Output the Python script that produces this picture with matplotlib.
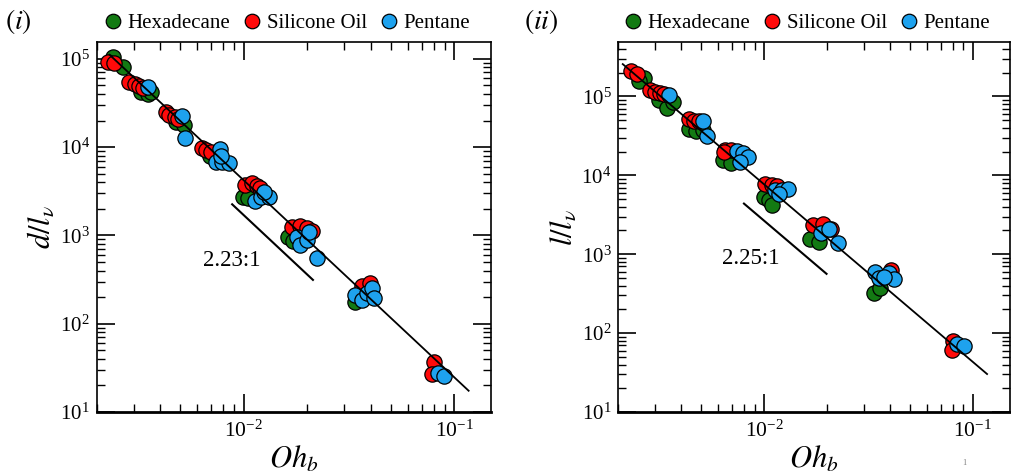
import matplotlib
matplotlib.use("Agg")
import matplotlib.pyplot as plt
import numpy as np
from matplotlib.ticker import LogLocator, NullFormatter

plt.rcParams['font.family'] = ['Liberation Serif', 'DejaVu Serif']
plt.rcParams['mathtext.fontset'] = 'stix'

# panel (i): d/l_v vs Oh_b
hex_x1 = [0.00239, 0.00267, 0.00326, 0.0035, 0.00363, 0.00478, 0.00517, 0.00687,
          0.00995, 0.0105, 0.0163, 0.0171, 0.0337]
hex_y1 = [1.04e5, 8.07e4, 4.24e4, 3.96e4, 4.24e4, 1.91e4, 1.78e4, 8.0e3,
          2.74e3, 2.63e3, 966, 865, 175]
sil_x1 = [0.00226, 0.00242, 0.00286, 0.00303, 0.00318, 0.00332, 0.00428, 0.00443,
          0.00469, 0.00486, 0.00634, 0.00662, 0.0070, 0.01014, 0.0109, 0.01153,
          0.01195, 0.0169, 0.0185, 0.0199, 0.021, 0.0363, 0.0398, 0.080, 0.078]
sil_y1 = [9.3e4, 8.95e4, 5.5e4, 5.14e4, 4.96e4, 4.71e4, 2.52e4, 2.31e4,
          2.21e4, 2.08e4, 9.84e3, 9.27e3, 8.73e3, 3.72e3, 3.89e3, 3.66e3,
          3.41e3, 1.256e3, 1.29e3, 1.22e3, 1.12e3, 267, 290, 37, 26.9]
pen_x1 = [0.00352, 0.0051, 0.00523, 0.00772, 0.0074, 0.00789, 0.0085, 0.0078,
          0.0113, 0.0121, 0.0131, 0.0124, 0.01787, 0.0185, 0.020, 0.0205, 0.0223,
          0.0337, 0.0363, 0.0384, 0.0405, 0.0415, 0.0839, 0.0893]
pen_y1 = [4.83e4, 2.25e4, 1.28e4, 9.5e3, 6.73e3, 6.8e3, 6.56e3, 7.93e3,
          2.45e3, 2.74e3, 2.7e3, 3.13e3, 966, 778, 887, 1.1e3, 560,
          211, 185, 221, 252, 194, 27.4, 25.6]

# panel (ii): l/l_v vs Oh_b
hex_x2 = [0.00266, 0.00251, 0.00313, 0.00343, 0.00366, 0.00435, 0.00472, 0.00508,
          0.00633, 0.00692, 0.00993, 0.0105, 0.01095, 0.01656, 0.01827, 0.0335, 0.036]
hex_y2 = [1.73e5, 1.56e5, 8.9e4, 7.2e4, 8.47e4, 3.9e4, 3.64e4, 3.72e4,
          1.55e4, 1.43e4, 5.31e3, 4.83e3, 4.26e3, 1.58e3, 1.43e3, 318, 368]
sil_x2 = [0.00229, 0.00245, 0.00285, 0.00301, 0.00318, 0.0033, 0.00435, 0.00459,
          0.00485, 0.00649, 0.00692, 0.0064, 0.0101, 0.01087, 0.01148, 0.01718,
          0.01915, 0.021, 0.0405, 0.0805, 0.0796]
sil_y2 = [2.13e5, 1.94e5, 1.19e5, 1.13e5, 1.10e5, 1.06e5, 5.22e4, 4.87e4,
          4.87e4, 2.11e4, 2.07e4, 1.95e4, 7.85e3, 7.62e3, 7.26e3, 2.33e3,
          2.4e3, 2.07e3, 640, 80, 62]
pen_x2 = [0.00349, 0.00508, 0.00531, 0.00738, 0.00789, 0.0084, 0.0077, 0.01127,
          0.01222, 0.01305, 0.01178, 0.0188, 0.0204, 0.0226, 0.0338, 0.0357,
          0.0398, 0.0417, 0.0377, 0.0841, 0.0905]
pen_y2 = [1.05e5, 4.87e4, 3.12e4, 2.03e4, 1.91e4, 1.71e4, 1.47e4, 6.46e3,
          6.6e3, 6.8e3, 5.86e3, 1.86e3, 2.11e3, 1.39e3, 598, 507,
          570, 492, 516, 72, 68.4]

# power-law fits  y = A * x^-n
fit_A = [0.1455, 0.2426]
fit_n = [2.23, 2.25]
fit_xrange = [(0.0023, 0.117), (0.0021, 0.117)]
# slope guide segments: (x start, y start, x end)
guide = [(0.0088, 2250, 0.0213), (0.0080, 4385, 0.0199)]
guide_text = ["2.23:1", "2.25:1"]
guide_text_pos = [(0.0088, 526), (0.00858, 883)]

ylabels = [r"$d/l_\nu$", r"$l/l_\nu$"]
panel_labels = [r"$(i)$", r"$(ii)$"]
ylims = [(10, 1.55e5), (10, 4.9e5)]

green = "#137a13"
red = "#ff0a0a"
blue = "#1ea2ee"

fig = plt.figure(figsize=(10.11, 4.75), dpi=100)
ax1 = fig.add_axes([0.0957, 0.1326, 0.3903, 0.779])
ax2 = fig.add_axes([0.6116, 0.1326, 0.3870, 0.779])

data = [(hex_x1, hex_y1, sil_x1, sil_y1, pen_x1, pen_y1),
        (hex_x2, hex_y2, sil_x2, sil_y2, pen_x2, pen_y2)]

for i, ax in enumerate([ax1, ax2]):
    hx, hy, sx, sy, px, py = data[i]
    mk = dict(ls='none', marker='o', ms=11, mec='black', mew=0.9)
    ax.plot(hx, hy, mfc=green, label='Hexadecane', **mk)
    ax.plot(sx, sy, mfc=red, label='Silicone Oil', **mk)
    ax.plot(px, py, mfc=blue, label='Pentane', **mk)

    xf = np.array(fit_xrange[i])
    ax.plot(xf, fit_A[i] * xf ** (-fit_n[i]), color='black', lw=1.3, zorder=5)

    gx0, gy0, gx1 = guide[i]
    gx = np.array([gx0, gx1])
    ax.plot(gx, gy0 * (gx / gx0) ** (-fit_n[i]), color='black', lw=1.5)
    ax.text(guide_text_pos[i][0], guide_text_pos[i][1], guide_text[i],
            ha='center', va='center', fontsize=16.5)

    ax.set_xscale('log')
    ax.set_yscale('log')
    ax.set_xlim(0.002, 0.15)
    ax.set_ylim(*ylims[i])

    ax.xaxis.set_major_locator(LogLocator(base=10))
    ax.xaxis.set_minor_locator(LogLocator(base=10, subs=np.arange(2, 10)))
    ax.yaxis.set_minor_locator(LogLocator(base=10, subs=np.arange(2, 10)))
    ax.xaxis.set_minor_formatter(NullFormatter())
    ax.yaxis.set_minor_formatter(NullFormatter())

    ax.tick_params(which='both', direction='in', top=True, right=True)
    ax.tick_params(which='major', length=13, width=1.2)
    ax.tick_params(which='minor', length=6, width=1.0)
    ax.tick_params(axis='x', which='major', labelsize=15.5, pad=6)
    ax.tick_params(axis='y', which='major', labelsize=15, pad=5)
    for s in ['left', 'right', 'top']:
        ax.spines[s].set_linewidth(1.2)
    ax.spines['bottom'].set_linewidth(2.0)

    ax.set_xlabel(r"$Oh_b$", fontsize=22, labelpad=2)
    ax.set_ylabel(ylabels[i], fontsize=22, labelpad=2)

    ax.legend(loc='lower center', bbox_to_anchor=(0.48, 0.995), ncol=3, frameon=False,
              fontsize=15, handletextpad=0.2, columnspacing=0.55,
              handlelength=1.0, markerscale=0.95, borderaxespad=0.1)

fig.text(0.005, 0.955, panel_labels[0], fontsize=20, va='center', ha='left')
fig.text(0.518, 0.955, panel_labels[1], fontsize=20, va='center', ha='left')
fig.text(0.954, 0.025, "1", fontsize=6, color='gray', ha='center', va='center')

fig.savefig("out.png", dpi=100)
